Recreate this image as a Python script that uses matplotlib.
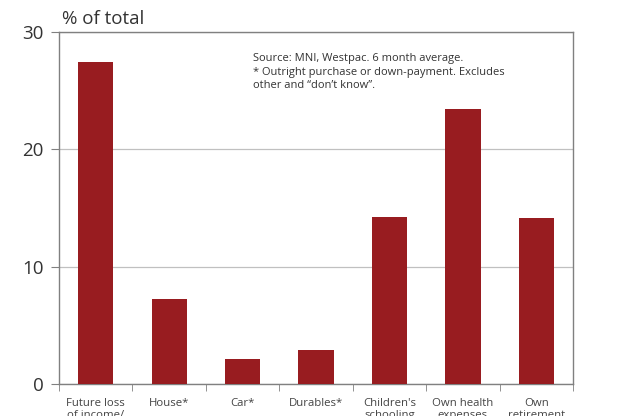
import numpy as np
import matplotlib.pyplot as plt

plt.rcParams['font.family'] = ['Open Sans', 'DejaVu Sans']

# data
categories = ['Future loss\nof income/\njob', 'House*', 'Car*', 'Durables*',
              "Children's\nschooling", 'Own health\nexpenses', 'Own\nretirement']
values = [27.4, 7.25, 2.1, 2.9, 14.2, 23.4, 14.15]
yticks = [0, 10, 20, 30]

bar_color = '#981c20'
axis_grey = '#808080'

fig = plt.figure(figsize=(6.3, 4.16), dpi=100)
ax = fig.add_axes([0.0937, 0.0769, 0.8159, 0.8462])

x = np.arange(len(categories))
ax.bar(x, values, width=0.48, color=bar_color, zorder=3)

ax.set_xlim(-0.5, len(categories) - 0.5)
ax.set_ylim(0, 30)
ax.set_yticks(yticks)
ax.yaxis.grid(True, color='#c0c0c0', linewidth=0.9, zorder=0)

ax.set_xticks(x)
ax.set_xticklabels(categories, fontsize=8.2, color='#444444', linespacing=1.1)
ax.set_xticks(np.arange(len(categories) + 1) - 0.5, minor=True)
ax.tick_params(axis='x', which='major', length=0, pad=10)
ax.tick_params(axis='x', which='minor', length=5, color=axis_grey, direction='out')
ax.tick_params(axis='y', length=6, color=axis_grey, labelsize=13.5, pad=5,
               labelcolor='#333333')

for side in ['left', 'right', 'top', 'bottom']:
    ax.spines[side].set_color(axis_grey)
    ax.spines[side].set_linewidth(1.0)

fig.text(0.098, 0.955, '% of total', fontsize=13.5, color='#333333',
         va='center', ha='left')

ax.text(0.378, 0.94,
        'Source: MNI, Westpac. 6 month average.\n'
        '* Outright purchase or down-payment. Excludes\n'
        'other and \u201cdon\u2019t know\u201d.',
        transform=ax.transAxes, fontsize=8, color='#333333',
        va='top', ha='left', linespacing=1.32)

fig.savefig('out.png', dpi=100)
